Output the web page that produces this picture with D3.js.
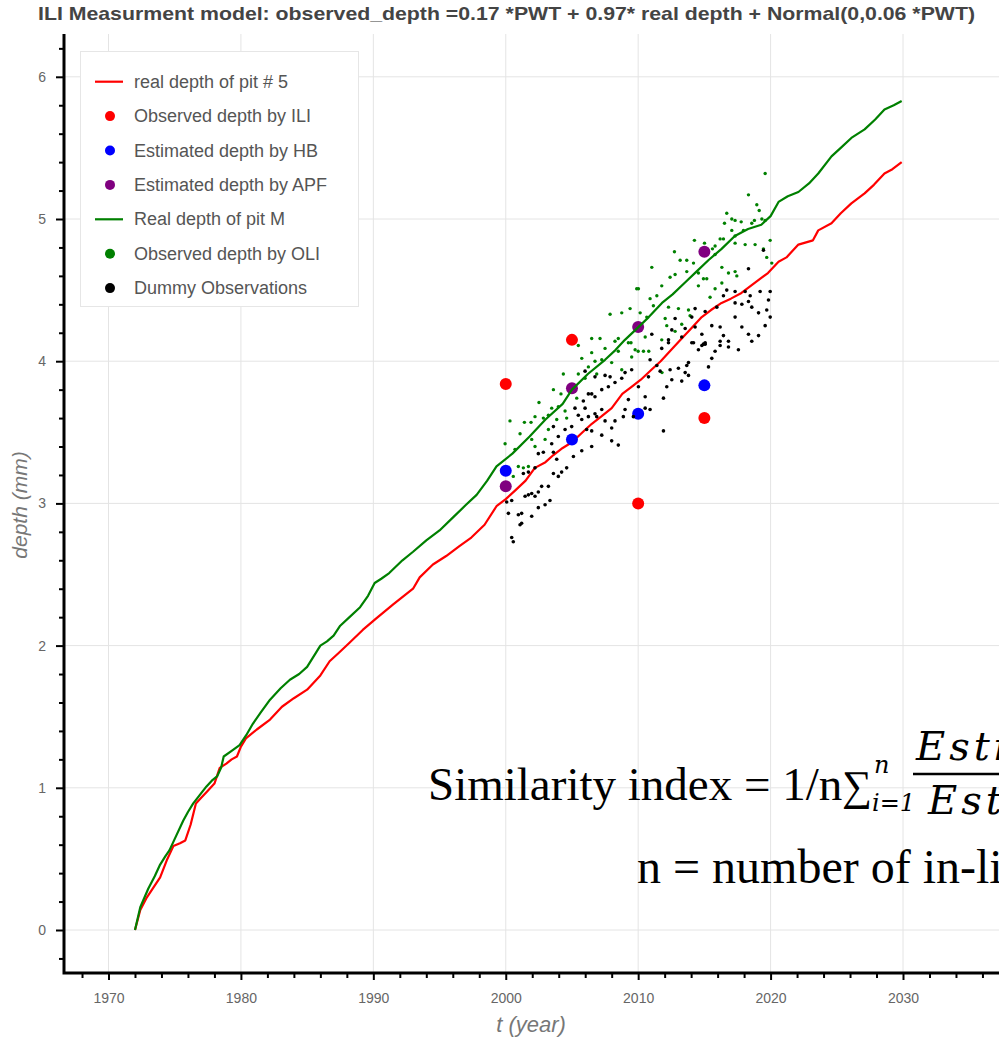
<!DOCTYPE html>
<html><head><meta charset="utf-8">
<script src="https://cdn.jsdelivr.net/npm/d3@7"></script>
<style>body{margin:0;background:#fff;overflow:hidden}svg{display:block}</style>
</head><body><svg id="c" width="999" height="1040"></svg>
<script>
// ---------------- data ----------------
const pit5Years = [1972.0,1972.4,1972.9,1973.4,1973.9,1974.4,1974.9,1975.4,1975.8,1976.2,1976.6,1977.0,1977.5,1978.0,1978.4,1978.9,1979.3,1979.7,1980.0,1980.4,1981.2,1982.2,1983.1,1984.0,1985.0,1986.0,1986.7,1987.4,1988.2,1989.2,1990.2,1991.5,1993.0,1993.5,1994.5,1995.5,1996.5,1997.4,1998.4,1999.3,2000.0,2000.7,2001.5,2002.2,2003.0,2003.6,2004.3,2005.0,2005.8,2006.5,2007.2,2008.0,2008.8,2009.5,2010.2,2011.0,2011.7,2012.5,2013.2,2014.0,2014.8,2015.5,2016.3,2017.0,2017.8,2018.8,2019.8,2020.6,2021.2,2022.1,2023.2,2023.6,2024.6,2025.3,2026.1,2027.1,2027.8,2028.6,2029.2,2029.9];
const pit5Depth = [0,0.14,0.23,0.30,0.37,0.49,0.59,0.61,0.63,0.74,0.89,0.93,0.98,1.03,1.14,1.17,1.20,1.22,1.29,1.35,1.41,1.48,1.57,1.63,1.69,1.79,1.89,1.95,2.02,2.11,2.19,2.29,2.40,2.48,2.57,2.63,2.70,2.76,2.85,2.98,3.03,3.09,3.16,3.25,3.29,3.34,3.39,3.43,3.50,3.56,3.61,3.67,3.77,3.82,3.87,3.94,4.00,4.08,4.15,4.23,4.31,4.36,4.41,4.44,4.48,4.55,4.62,4.70,4.73,4.82,4.85,4.92,4.97,5.04,5.11,5.18,5.24,5.32,5.35,5.40];

const pitMYears = [1972.0,1972.4,1973.0,1973.5,1973.9,1974.3,1974.6,1975.1,1975.65,1976.0,1976.4,1976.9,1977.4,1977.8,1978.2,1978.5,1978.7,1979.3,1979.9,1980.4,1980.9,1981.5,1982.2,1983.0,1983.7,1984.4,1985.0,1985.6,1986.0,1986.5,1987.0,1987.5,1988.2,1989.0,1989.6,1990.1,1990.6,1991.2,1992.2,1993.0,1994.0,1995.0,1996.0,1997.0,1997.8,1998.6,1999.3,2000.5,2001.8,2003.0,2004.3,2005.0,2006.2,2007.5,2008.3,2009.0,2009.8,2010.8,2011.8,2012.6,2013.5,2014.4,2015.3,2016.3,2017.3,2018.3,2019.3,2020.0,2020.6,2021.3,2022.1,2022.9,2023.6,2024.6,2025.3,2026.1,2027.1,2027.9,2028.6,2029.3,2029.9];
const pitMDepth = [0,0.16,0.29,0.38,0.46,0.52,0.56,0.66,0.77,0.83,0.89,0.95,1.01,1.05,1.08,1.14,1.22,1.26,1.30,1.37,1.45,1.53,1.62,1.70,1.76,1.80,1.85,1.94,2.00,2.03,2.07,2.14,2.20,2.27,2.35,2.44,2.47,2.51,2.60,2.66,2.74,2.81,2.90,2.99,3.06,3.16,3.26,3.35,3.47,3.59,3.70,3.80,3.91,4.01,4.08,4.15,4.22,4.31,4.41,4.47,4.55,4.63,4.71,4.79,4.88,4.93,4.96,5.02,5.12,5.16,5.19,5.25,5.32,5.44,5.50,5.57,5.63,5.70,5.77,5.80,5.83];

const inspectionYears = [2000, 2005, 2010, 2015];
const iliDepth = [3.84, 4.15, 3.00, 3.60];
const hbDepth  = [3.23, 3.45, 3.63, 3.83];
const apfDepth = [3.12, 3.81, 4.24, 4.77];

const oliYears = [2000.32,1999.95,2001.08,2001.41,2001.91,2002.21,2002.51,2002.84,2003.22,2003.60,2003.47,2003.85,2003.97,2004.17,2004.35,2004.48,2005.48,2005.74,2005.99,2006.24,2006.49,2006.74,2006.87,2007.25,2007.50,2008.00,2008.25,2008.50,2008.76,2009.26,2009.51,2009.77,2005.36,2004.60,2003.22,2002.97,2001.96,2000.95,2001.33,2001.71,2000.70,2002.21,2000.57,
 2007.88,2008.76,2009.39,2009.89,2006.49,2007.12,2005.48,2008.50,2009.46,
 2010.0,2010.4,2010.8,2011.8,
 2019.59,2018.33,2018.96,2019.14,2016.69,2016.52,2017.07,2017.32,2017.78,2018.58,2018.78,2019.34,2019.59,2017.95,2017.32,2017.07,2016.44,2016.19,2015.81,2014.25,2015.01,2015.61,2017.32,2018.08,2018.83,2019.46,2019.97,2012.74,2013.17,2013.67,2014.18,2011.03,2012.41,2012.79,2014.55,2014.93,2015.18,2016.32,2016.82,2017.32,2017.45,2011.78,2014.55,2015.81,2016.32,2010.02,2010.90,2011.41,2011.15,2012.29,2013.04,2013.80,2013.92,2015.43,2010.65,2012.04,2013.29,2012.79,2012.16,2010.53,2011.78,2019.71,2020.09,2015.81,2013.67,2010.15];
const oliDepth = [3.58,3.42,3.49,3.57,3.57,3.61,3.71,3.60,3.62,3.80,3.67,3.59,3.68,3.77,3.91,3.65,3.91,4.02,3.88,3.96,4.06,4.00,3.91,4.01,4.09,3.99,4.14,4.07,3.94,4.13,4.03,4.08,3.74,3.60,3.52,3.45,3.45,3.26,3.25,3.26,3.38,3.40,3.19,
 4.33,4.34,4.37,4.51,4.16,4.16,4.11,4.16,4.13,
 4.07,4.07,4.07,3.92,
 5.32,5.17,5.10,5.06,5.04,4.97,5.00,4.99,4.98,4.97,4.99,5.00,4.99,4.92,4.88,4.92,4.86,4.86,4.81,4.85,4.83,4.79,4.83,4.82,4.82,4.79,4.85,4.77,4.71,4.71,4.69,4.66,4.59,4.61,4.62,4.58,4.58,4.66,4.62,4.63,4.60,4.53,4.53,4.51,4.55,4.51,4.44,4.46,4.39,4.38,4.37,4.36,4.32,4.45,4.31,4.30,4.26,4.21,4.25,4.17,4.15,4.73,4.69,4.75,4.63,4.34];

const dummyYears = [2006.49,2006.74,2007.25,2007.75,2008.25,2009.01,2009.51,2008.76,2007.88,2007.50,2006.87,2006.49,2006.11,2005.74,2005.48,2004.98,2005.99,2006.24,2006.74,2007.25,2007.50,2008.00,2008.25,2008.50,2008.00,2007.25,2006.49,2005.74,2005.11,2004.60,2004.22,2003.97,2003.60,2003.85,2003.60,2003.47,2003.60,2003.97,2004.48,2002.84,2002.46,2002.21,2001.71,2001.33,2002.71,2002.46,2002.21,2001.96,2001.71,2001.46,2003.34,2002.97,2002.46,2001.96,2001.20,2000.95,2000.20,2000.45,2000.07,2001.20,2001.08,2000.45,2000.57,2003.22,2009.26,2009.01,2009.64,2008.88,2005.99,2006.24,2005.86,2005.23,2006.74,
 2014.05,2014.81,2015.06,2014.55,2015.81,2016.19,2016.82,2017.57,2015.56,2015.31,2013.80,2013.67,2013.04,2013.55,2013.80,2013.29,2012.54,2012.16,2011.91,2010.53,2010.02,2010.90,2011.41,2011.66,2010.78,2010.53,2010.90,2011.91,2012.41,2012.29,2011.78,
 2018.33,2019.46,2016.69,2017.32,2016.44,2018.08,2018.46,2019.21,2019.97,2017.32,2017.83,2018.33,2018.58,2019.09,2019.71,2019.84,2015.06,2015.94,2014.30,2014.05,2013.55,2013.29,2014.30,2014.81,2015.06,2015.56,2016.19,2016.44,2016.82,2017.32,2017.83,2018.33,2018.58,2019.59,2019.97,2012.79,2012.54,2012.29,2011.03,2014.18,2014.93,2016.19,2019.09];
const dummyDepth = [3.77,3.75,3.80,3.82,3.85,3.92,3.94,3.88,3.89,3.90,3.61,3.51,3.52,3.59,3.62,3.54,3.67,3.61,3.63,3.66,3.58,3.53,3.58,3.41,3.44,3.48,3.40,3.37,3.33,3.25,3.22,3.19,3.21,3.31,3.36,3.42,3.54,3.47,3.52,3.36,3.35,3.25,3.22,3.21,3.12,3.08,3.05,3.07,3.06,3.05,3.02,2.99,2.97,2.91,2.93,2.92,2.93,3.02,3.01,2.86,2.85,2.76,2.73,3.12,3.73,3.66,3.61,3.61,3.93,3.77,3.72,3.67,3.89,
 4.13,4.11,4.12,4.08,4.07,4.11,4.10,4.08,4.02,3.96,3.99,3.97,3.95,3.92,3.90,3.86,3.87,3.82,3.74,3.75,3.82,4.01,3.97,3.93,3.89,3.67,3.66,3.51,3.94,4.13,4.09,
 4.65,4.78,4.50,4.49,4.46,4.49,4.46,4.49,4.49,4.41,4.40,4.42,4.38,4.34,4.36,4.43,4.35,4.38,4.37,4.31,4.23,4.17,4.24,4.19,4.13,4.25,4.24,4.18,4.14,4.31,4.24,4.19,4.14,4.25,4.31,4.30,4.22,4.15,4.19,4.13,4.12,4.14,4.18];

const xTickLabels = [1970,1980,1990,2000,2010,2020,2030];
const yTickLabels = [0,1,2,3,4,5,6];
const legendLabels = ["real depth of pit # 5","Observed depth by ILI","Estimated depth by HB","Estimated depth by APF","Real depth of pit M","Observed depth by OLI","Dummy Observations"];

// ---------------- drawing ----------------
const svg = d3.select("#c");
const W = 999, H = 1040;
const L = 64, B = 973, T = 34;
const x = d3.scaleLinear().domain([1970, 2030]).range([108.5, 903]);
const y = d3.scaleLinear().domain([0, 6]).range([930, 76.8]);
const xAxisScale = d3.scaleLinear().domain([x.invert(L), x.invert(1005)]).range([L, 1005]);
const yAxisScale = d3.scaleLinear().domain([y.invert(B), y.invert(T)]).range([B, T]);

const font = "'Liberation Sans', Arial, Helvetica, sans-serif";
svg.append("rect").attr("width", W).attr("height", H).attr("fill", "#fff");

// title
svg.append("text").attr("x", 38).attr("y", 19.5)
  .attr("textLength", 937).attr("lengthAdjust", "spacingAndGlyphs")
  .attr("font-family", font).attr("font-size", 19).attr("font-weight", "bold").attr("fill", "#444")
  .text("ILI Measurment model: observed_depth =0.17 *PWT + 0.97* real depth + Normal(0,0.06 *PWT)");

// grid
const grid = svg.append("g").attr("stroke", "#e4e4e4").attr("stroke-width", 1);
grid.selectAll(".gx").data(d3.range(1970, 2041, 10)).join("line")
  .attr("x1", d => x(d)).attr("x2", d => x(d)).attr("y1", T).attr("y2", B);
grid.selectAll(".gy").data(yTickLabels).join("line")
  .attr("y1", d => y(d)).attr("y2", d => y(d)).attr("x1", L).attr("x2", W);

// lines and points
const plot = svg.append("g");
const line = d3.line().x(d => x(d[0])).y(d => y(d[1]));
plot.append("path").datum(pit5Years.map((v, i) => [v, pit5Depth[i]]))
  .attr("d", line).attr("fill", "none").attr("stroke", "red").attr("stroke-width", 2.2).attr("stroke-linejoin", "round");
function dots(xs, ys, r, color) {
  plot.append("g").selectAll("circle").data(xs.map((v, i) => [v, ys[i]])).join("circle")
    .attr("cx", d => x(d[0])).attr("cy", d => y(d[1])).attr("r", r).attr("fill", color);
}
dots(inspectionYears, iliDepth, 6, "red");
dots(inspectionYears, hbDepth, 6, "blue");
dots(inspectionYears, apfDepth, 6, "purple");
plot.append("path").datum(pitMYears.map((v, i) => [v, pitMDepth[i]]))
  .attr("d", line).attr("fill", "none").attr("stroke", "green").attr("stroke-width", 2.2).attr("stroke-linejoin", "round");
dots(oliYears, oliDepth, 1.7, "green");
dots(dummyYears, dummyDepth, 1.8, "black");

// axes
const axX = svg.append("g").attr("transform", `translate(0,${B})`);
axX.call(d3.axisBottom(xAxisScale).tickValues(d3.range(1968, 2041, 2).filter(v => v % 10 !== 0)).tickSize(5).tickFormat(""));
axX.call(g => g.append("g").call(d3.axisBottom(xAxisScale).tickValues(xTickLabels.concat([2040])).tickSize(7).tickPadding(13).tickFormat(d => xTickLabels.includes(d) ? d : "")));
const axY = svg.append("g").attr("transform", `translate(${L},0)`);
axY.call(d3.axisLeft(yAxisScale).tickValues(d3.range(-0.2, 6.3, 0.2).filter(v => Math.abs(v - Math.round(v)) > 0.01)).tickSize(5).tickFormat(""));
axY.call(g => g.append("g").call(d3.axisLeft(yAxisScale).tickValues(yTickLabels).tickSize(8).tickPadding(10).tickFormat(d3.format("d"))));
svg.selectAll(".domain").remove();
svg.selectAll(".tick line").attr("stroke", "#000").attr("stroke-width", 2);
svg.selectAll(".tick text").attr("font-family", font).attr("font-size", 14).attr("fill", "#666");
svg.append("path").attr("d", `M${L},${T}V${B}H${W}`).attr("fill", "none").attr("stroke", "#000").attr("stroke-width", 3);

// axis titles
svg.append("text").attr("transform", "translate(27,505) rotate(-90)").attr("text-anchor", "middle")
  .attr("font-family", font).attr("font-style", "italic").attr("font-size", 21).attr("fill", "#777").text("depth (mm)");
svg.append("text").attr("x", 531).attr("y", 1032).attr("text-anchor", "middle")
  .attr("font-family", font).attr("font-style", "italic").attr("font-size", 22).attr("fill", "#777").text("t (year)");

// legend
const lg = svg.append("g");
lg.append("rect").attr("x", 80.5).attr("y", 51.5).attr("width", 278).attr("height", 255)
  .attr("fill", "#fff").attr("stroke", "#e6e6e6").attr("stroke-width", 1);
const legendKinds = [["line","red"],["dot","red"],["dot","blue"],["dot","purple"],["line","green"],["dot","green"],["dot","black"]];
legendLabels.forEach((lab, i) => {
  const cy = 81.7 + i * 34.4;
  const k = legendKinds[i];
  if (k[0] === "line") lg.append("line").attr("x1", 95).attr("x2", 123).attr("y1", cy).attr("y2", cy).attr("stroke", k[1]).attr("stroke-width", 2.2);
  else lg.append("circle").attr("cx", 110).attr("cy", cy).attr("r", 5).attr("fill", k[1]);
  lg.append("text").attr("x", 134).attr("y", cy + 6).attr("font-family", font).attr("font-size", 18).attr("fill", "#555").text(lab);
});

// overlaid formula text (runs past the right edge as in the reference)
const serif = "'Liberation Serif', 'Times New Roman', serif";
const mathIt = "'DejaVu Serif', 'Liberation Serif', serif";
const f = svg.append("g").attr("fill", "#000");
f.append("text").attr("x", 428).attr("y", 800).attr("font-family", serif).attr("font-size", 47).text("Similarity index = 1/n");
f.append("text").attr("x", 842).attr("y", 800).attr("font-family", serif).attr("font-size", 42).text("\u2211");
f.append("text").attr("x", 874).attr("y", 773).attr("font-family", mathIt).attr("font-style", "italic").attr("font-size", 24).text("n");
f.append("text").attr("x", 872).attr("y", 811).attr("font-family", mathIt).attr("font-style", "italic").attr("font-size", 24).text("i=1");
f.append("line").attr("x1", 913).attr("x2", 1000).attr("y1", 774).attr("y2", 774).attr("stroke", "#000").attr("stroke-width", 2.5);
f.append("text").attr("x", 916).attr("y", 760).attr("font-family", mathIt).attr("font-style", "italic").attr("font-size", 40).attr("letter-spacing", 4).text("Estimated");
f.append("text").attr("x", 928).attr("y", 814).attr("font-family", mathIt).attr("font-style", "italic").attr("font-size", 40).attr("letter-spacing", 4).text("Estimated");
f.append("text").attr("x", 637).attr("y", 883).attr("font-family", serif).attr("font-size", 48).text("n = number of in-line inspections");
</script></body></html>
